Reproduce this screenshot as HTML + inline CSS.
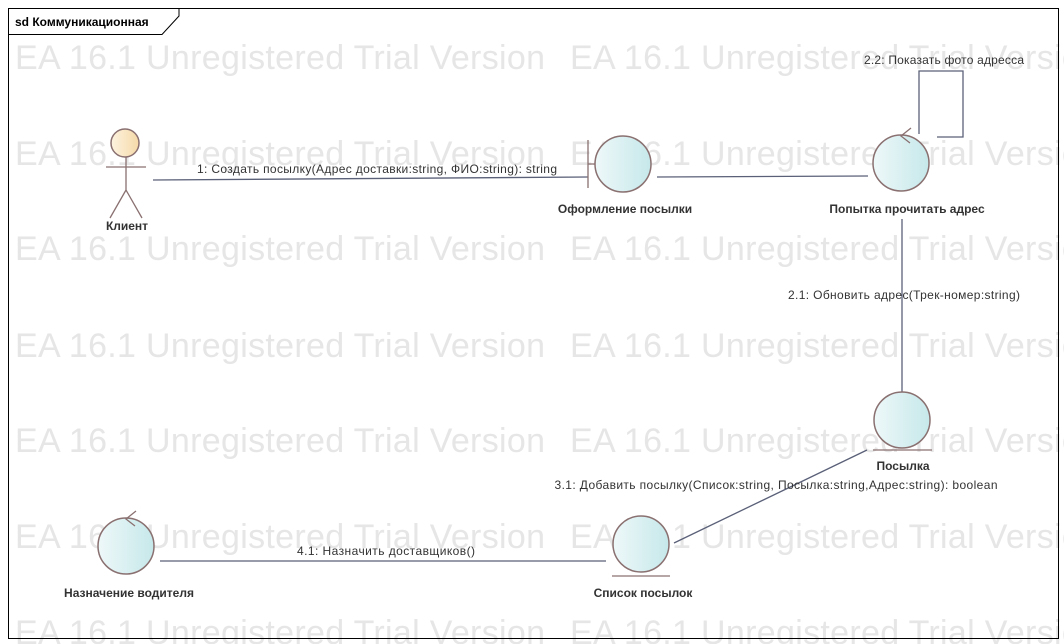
<!DOCTYPE html>
<html><head><meta charset="utf-8"><style>
body{margin:0;background:#fff}
svg{display:block;font-family:"Liberation Sans","Noto Sans CJK SC",sans-serif}
.wm{font-size:34px;fill:#e6e6e6}
.lbl{font-size:12px;font-weight:bold;fill:#333;text-anchor:middle}
.msg{font-size:12px;fill:#333;text-anchor:middle}
.ln{stroke:#5a6078;stroke-width:1.3;fill:none}
.obj{stroke:#8a7070;stroke-width:1.5;fill:url(#g)}
</style></head><body>
<svg width="1064" height="644" viewBox="0 0 1064 644">
<defs><linearGradient id="g" x1="0" x2="1"><stop offset="0" stop-color="#eef8f9"/><stop offset="1" stop-color="#c6e8ea"/></linearGradient>
<linearGradient id="ga" x1="0" x2="1"><stop offset="0" stop-color="#fdf3e0"/><stop offset="1" stop-color="#f5d9a8"/></linearGradient></defs>
<g>
<text class="wm" x="15" y="69" textLength="530">EA 16.1 Unregistered Trial Version</text><text class="wm" x="570" y="69" textLength="530">EA 16.1 Unregistered Trial Version</text>
<text class="wm" x="15" y="165" textLength="530">EA 16.1 Unregistered Trial Version</text><text class="wm" x="570" y="165" textLength="530">EA 16.1 Unregistered Trial Version</text>
<text class="wm" x="15" y="260" textLength="530">EA 16.1 Unregistered Trial Version</text><text class="wm" x="570" y="260" textLength="530">EA 16.1 Unregistered Trial Version</text>
<text class="wm" x="15" y="357" textLength="530">EA 16.1 Unregistered Trial Version</text><text class="wm" x="570" y="357" textLength="530">EA 16.1 Unregistered Trial Version</text>
<text class="wm" x="15" y="452" textLength="530">EA 16.1 Unregistered Trial Version</text><text class="wm" x="570" y="452" textLength="530">EA 16.1 Unregistered Trial Version</text>
<text class="wm" x="15" y="548" textLength="530">EA 16.1 Unregistered Trial Version</text><text class="wm" x="570" y="548" textLength="530">EA 16.1 Unregistered Trial Version</text>
<text class="wm" x="15" y="644" textLength="530">EA 16.1 Unregistered Trial Version</text><text class="wm" x="570" y="644" textLength="530">EA 16.1 Unregistered Trial Version</text>
</g>
<rect x="8.5" y="8.5" width="1050" height="630" fill="none" stroke="#000"/>
<path d="M8.5 34.5H162L179 16V8.5" fill="none" stroke="#000"/>
<text x="15" y="26" font-size="12" font-weight="bold">sd Коммуникационная</text>

<g class="ln">
<line x1="153" y1="180" x2="588" y2="177"/>
<line x1="657" y1="177" x2="868" y2="176"/>
<path d="M919 134V71H963V137H937"/>
<line x1="902" y1="219" x2="902" y2="393"/>
<line x1="867" y1="450" x2="674" y2="543"/>
<line x1="160" y1="561" x2="606" y2="561"/>
</g>
<text class="msg" x="377" y="173" textLength="360">1: Создать посылку(Адрес доставки:string, ФИО:string): string</text>
<text class="msg" x="944" y="64" textLength="160">2.2: Показать фото адресса</text>
<text class="msg" x="904" y="299" textLength="232">2.1: Обновить адрес(Трек-номер:string)</text>
<text class="msg" x="776" y="489" textLength="443">3.1: Добавить посылку(Список:string, Посылка:string,Адрес:string): boolean</text>
<text class="msg" x="386" y="555" textLength="178">4.1: Назначить доставщиков()</text>

<g>
<circle cx="125" cy="143" r="14" fill="url(#ga)" stroke="#8a7070" stroke-width="1.5"/>
<path d="M126 157V190M106 167H146M126 190L110 218M126 190L142 218" stroke="#8a7070" stroke-width="1.3" fill="none"/>
<text class="lbl" x="127" y="230">Клиент</text></g>

<g>
<path d="M588 140V188M588 164H595" stroke="#8a7070" stroke-width="1.3"/>
<circle class="obj" cx="623" cy="164" r="28"/>
<text class="lbl" x="625" y="213">Оформление посылки</text></g>

<g>
<circle class="obj" cx="901" cy="163" r="28"/>
<path d="M911 128L901 136L910 143" stroke="#8a7070" stroke-width="1.3" fill="none"/>
<text class="lbl" x="907" y="213">Попытка прочитать адрес</text></g>

<g>
<circle class="obj" cx="902" cy="420" r="28"/>
<line x1="873" y1="450" x2="932" y2="450" stroke="#8a7070" stroke-width="1.3"/>
<text class="lbl" x="903" y="470">Посылка</text></g>

<g>
<circle class="obj" cx="641" cy="544" r="28"/>
<line x1="612" y1="576" x2="670" y2="576" stroke="#8a7070" stroke-width="1.3"/>
<text class="lbl" x="643" y="597">Список посылок</text></g>

<g>
<circle class="obj" cx="126" cy="546" r="28"/>
<path d="M136 511L126 519L135 526" stroke="#8a7070" stroke-width="1.3" fill="none"/>
<text class="lbl" x="129" y="597">Назначение водителя</text></g>
</svg>
</body></html>
